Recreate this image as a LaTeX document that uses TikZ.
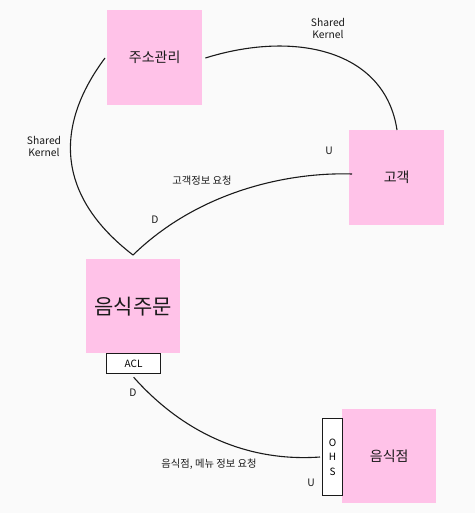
\documentclass[tikz,border=0pt]{standalone}
\usepackage{fontspec}
\setmainfont{Noto Sans CJK KR}
\definecolor{ctxpink}{HTML}{FFC2E8}
\definecolor{bgc}{HTML}{FAFAFA}
\definecolor{ink}{HTML}{1A1A1A}
\begin{document}
\begin{tikzpicture}[x=1pt,y=-1pt,
  ctx/.style={fill=ctxpink,draw=none,minimum width=95pt,minimum height=95pt,inner sep=0pt,anchor=north west,text=ink},
  port/.style={fill=white,draw=ink,line width=1.2pt,inner sep=0pt,anchor=north west},
  conn/.style={draw=ink,line width=1.1pt},
  lbl/.style={font=\fontsize{10.3}{12}\selectfont,text=ink,align=center,inner sep=0pt}]
\fill[bgc] (0,0) rectangle (475,513);
\useasboundingbox (0,0) rectangle (475,513);
% contexts
\node[ctx,font=\fontsize{14}{16}\selectfont] (addr) at (107,10) {주소관리};
\node[ctx,font=\fontsize{14}{16}\selectfont] (cust) at (349,130) {고객};
\node[ctx,minimum width=94pt,minimum height=94pt,font=\fontsize{21}{24}\selectfont] (order) at (86,259) {음식주문};
\node[ctx,minimum width=94pt,minimum height=94pt,font=\fontsize{14}{16}\selectfont] (store) at (342,409) {음식점};
% ports
\node[port,minimum width=54pt,minimum height=20pt,font=\fontsize{10}{12}\selectfont] (acl) at (106,353) {ACL};
\node[port,minimum width=20pt,minimum height=77pt,font=\fontsize{10}{14.5}\selectfont,align=center] (ohs) at (322,418) {O\\H\\S};
% junction
\coordinate (apex) at (133,255);
% connectors
\draw[conn] (addr.east |- 0,58) ++(3,0) .. controls (295,30) and (385,50) .. (cust.north -| 397,0) ++(0,-3);
\draw[conn] (addr.west |- 0,58) ++(-2,0) .. controls (55,125) and (55,195) .. (apex);
\draw[conn] (apex) .. controls (200,190) and (290,172) .. ([xshift=3pt]cust.west |- 0,174);
\draw[conn] ([yshift=-3pt]acl.south) .. controls (185,435) and (250,462) .. ([xshift=-2pt]ohs.west |- 0,457);
% labels
\node[lbl] (sk1) at (328,28) {Shared\\Kernel};
\node[lbl] (sk2) at (44,146) {Shared\\Kernel};
\node[lbl] (u1) at (329,151) {U};
\node[lbl] (req1) at (202,181) {고객정보 요청};
\node[lbl] (d1) at (155,220) {D};
\node[lbl] (d2) at (133,393) {D};
\node[lbl] (req2) at (209,464) {음식점, 메뉴 정보 요청};
\node[lbl] (u2) at (311,483) {U};
\end{tikzpicture}
\end{document}
